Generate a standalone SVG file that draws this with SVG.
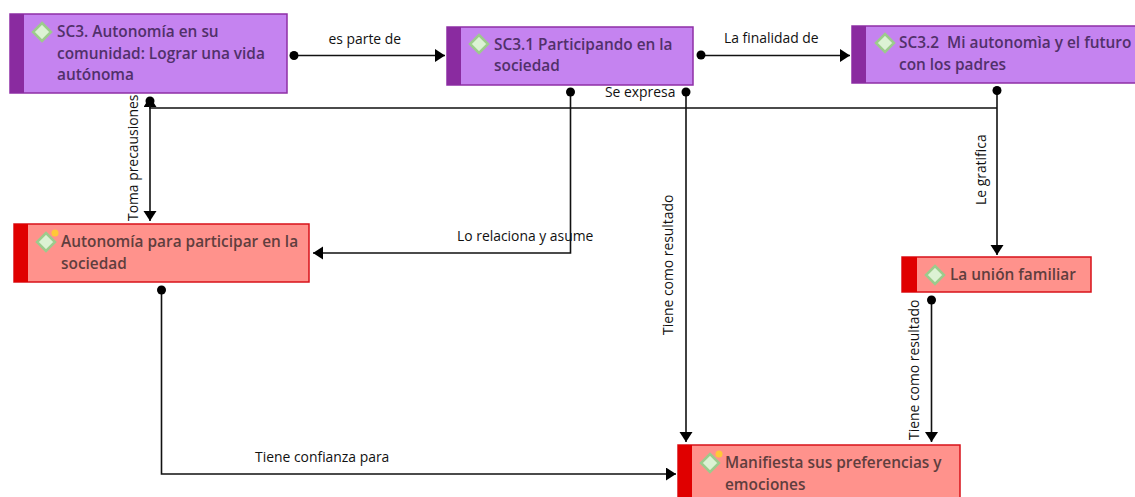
<svg xmlns="http://www.w3.org/2000/svg" width="1135" height="497" viewBox="0 0 1135 497">
<style>
.l{fill:none;stroke:#111;stroke-width:1.6}
.d{fill:#000}
.h{fill:#000}
.t{font-family:"Open Sans","Noto Sans",sans-serif;font-size:15.400px;font-weight:600}
.p .t{fill:#51306a}.r .t{fill:#5f3e3e}
.p .b{fill:#c583f0;stroke:#8e2fa6;stroke-width:1.5}.p .s{fill:#8a2ba0}
.r .b{fill:#ff928c;stroke:#d8121a;stroke-width:1.5}.r .s{fill:#e00000}
.i{fill:#dcf2d4;stroke:#9ccb8c;stroke-width:2.5}
.o{fill:#ffc838}
.c{font-family:"Open Sans","Noto Sans",sans-serif;font-size:13.900px;fill:#111}
</style>
<defs>
<marker id="a" markerUnits="userSpaceOnUse" markerWidth="12" markerHeight="14" refX="10" refY="6.500" orient="auto"><path class="h" d="M0 0L10 6.500L0 13Z"/></marker>
</defs>
<rect width="1135" height="497" fill="#fff"/>
<g id="connectors">
<path class="l" marker-end="url(#a)" d="M294 55.500H445"/>
<path class="l" marker-end="url(#a)" d="M701 55.500H850"/>
<path class="l" marker-end="url(#a)" d="M997 90V255"/>
<path class="l" marker-end="url(#a)" d="M997 108H150V97"/>
<path class="l" marker-end="url(#a)" d="M150 101V221"/>
<path class="l" marker-end="url(#a)" d="M570.500 92V253H313"/>
<path class="l" marker-end="url(#a)" d="M686 92V442"/>
<path class="l" marker-end="url(#a)" d="M931.500 300V442"/>
<path class="l" marker-end="url(#a)" d="M161.500 290V474H676"/>
<g class="d">
<circle cx="294" cy="55.500" r="4.500"/><circle cx="701" cy="55" r="4.500"/><circle cx="997" cy="90.500" r="4.500"/>
<circle cx="150" cy="101" r="4.500"/><circle cx="570.500" cy="92" r="4.500"/><circle cx="686" cy="92" r="4.500"/>
<circle cx="931.500" cy="300" r="4.500"/><circle cx="161.500" cy="290" r="4.500"/>
</g>
<text class="c" x="328.500" y="44">es parte de</text>
<text class="c" x="724" y="43">La finalidad de</text>
<text class="c" x="605" y="97">Se expresa</text>
<text class="c" x="457" y="241">Lo relaciona y asume</text>
<text class="c" x="255" y="462">Tiene confianza para</text>
<text class="c" transform="translate(138 221) rotate(-90)">Toma precausiones</text>
<text class="c" transform="translate(673 335) rotate(-90)">Tiene como resultado</text>
<text class="c" transform="translate(985.500 205) rotate(-90)">Le gratifica</text>
<text class="c" transform="translate(919 440) rotate(-90)">Tiene como resultado</text>
</g>
<g id="n1" class="p"><rect class="b" x="10" y="14" width="277" height="79"/><rect class="s" x="10" y="14" width="14" height="79"/>
<path class="i" d="M42 23L51 32L42 41L33 32Z"/>
<text class="t" x="57" y="37">SC3. Autonomía en su</text><text class="t" x="57" y="59">comunidad: Lograr una vida</text><text class="t" x="57" y="80">autónoma</text></g>
<g id="n2" class="p"><rect class="b" x="447" y="27" width="246" height="58"/><rect class="s" x="447" y="27" width="14" height="58"/>
<path class="i" d="M479 35L488 44L479 53L470 44Z"/>
<text class="t" x="494" y="50">SC3.1 Participando en la</text><text class="t" x="494" y="71">sociedad</text></g>
<g id="n3" class="p"><rect class="b" x="852" y="26" width="290" height="57"/><rect class="s" x="852" y="26" width="14" height="57"/>
<path class="i" d="M885 34L894 43L885 52L876 43Z"/>
<text class="t" x="899" y="48" xml:space="preserve">SC3.2  Mi autonomìa y el futuro</text><text class="t" x="899" y="70">con los padres</text></g>
<g id="n4" class="r"><rect class="b" x="14" y="224" width="295" height="58"/><rect class="s" x="14" y="224" width="14" height="58"/>
<path class="i" d="M46 233L55 242L46 251L37 242Z"/><circle class="o" cx="55" cy="233" r="3.500"/>
<text class="t" x="61" y="247">Autonomía para participar en la</text><text class="t" x="61" y="269">sociedad</text></g>
<g id="n5" class="r"><rect class="b" x="902" y="257" width="189" height="35"/><rect class="s" x="902" y="257" width="15" height="35"/>
<path class="i" d="M935 266L944 275L935 284L926 275Z"/>
<text class="t" x="950" y="280">La unión familiar</text></g>
<g id="n6" class="r"><rect class="b" x="678" y="445" width="282" height="60"/><rect class="s" x="678" y="445" width="14" height="60"/>
<path class="i" d="M710 454L719 463L710 472L701 463Z"/><circle class="o" cx="719" cy="454" r="3.500"/>
<text class="t" x="725" y="468">Manifiesta sus preferencias y</text><text class="t" x="725" y="490">emociones</text></g>
</svg>
